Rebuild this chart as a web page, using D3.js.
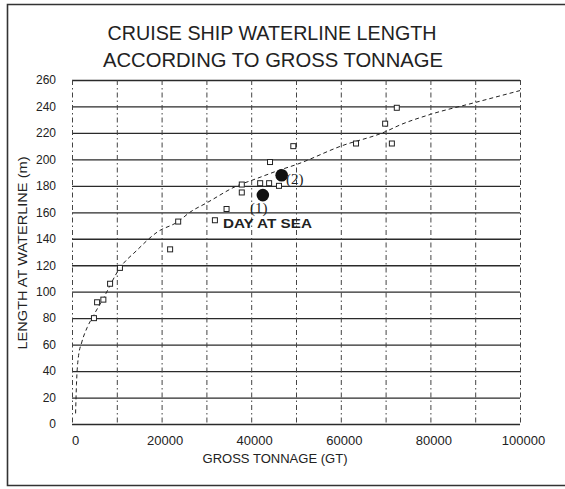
<!DOCTYPE html>
<html>
<head>
<meta charset="utf-8">
<script src="https://cdn.jsdelivr.net/npm/d3@7"></script>
<style>
  html, body { margin: 0; padding: 0; background: #fff; }
  svg { display: block; font-family: "Liberation Sans", Arial, sans-serif; }
</style>
</head>
<body>
<svg id="chart" width="565" height="489"></svg>
<script>
// ---- data ----
const titleLines = ["CRUISE SHIP WATERLINE LENGTH", "ACCORDING TO GROSS TONNAGE"];
const xTicks = [0, 20000, 40000, 60000, 80000, 100000];
const xGrid = [0, 10000, 20000, 30000, 40000, 50000, 60000, 70000, 80000, 90000, 100000];
const yTicks = [0, 20, 40, 60, 80, 100, 120, 140, 160, 180, 200, 220, 240, 260];

// ships (open squares)
const shipGT = [4900, 5600, 7000, 8500, 10700, 21900, 23700, 31900, 34500, 37900, 37900, 42000, 44000, 46200, 44200, 49400, 63400, 69900, 71400, 72500];
const shipL  = [80,   92,   94,   106,  118,   132,   153,   154,   162.5, 181,   175,   182,   182,   180,   198,   210,   212,   227,   212,   239];

// highlighted designs (filled circles)
const designGT = [42600, 46800];
const designL  = [173, 188];
const designLabels = ["(1)", "(2)"];

// trend curve points
const curveGT = [800, 1000, 1400, 2200, 3400, 4800, 7000, 10700, 14400, 19000, 23700, 26300, 30000, 37500, 40000, 46400, 50000, 60000, 70000, 73200, 80000, 90000, 100000];
const curveL  = [8,   30,   50,   62,   73,   82,   95,   118,   131,   145,   153,   160,   167,   181,   184,   192,   196,   210,   221,   226,   234,   243,   252];

const annotation = "DAY AT SEA";
const xTitle = "GROSS TONNAGE (GT)";
const yTitle = "LENGTH AT WATERLINE (m)";

// ---- drawing ----
const svg = d3.select("#chart");
const x = d3.scaleLinear().domain([0, 100000]).range([72, 520]);
const y = d3.scaleLinear().domain([0, 260]).range([424, 80]);
const ink = "#222";

// outer frame
svg.append("path")
  .attr("d", "M565,4.5 H7.5 V485.5 H565")
  .attr("fill", "none").attr("stroke", "#333").attr("stroke-width", 1.6);

// title
svg.selectAll("text.title").data(titleLines).join("text")
  .attr("class", "title")
  .attr("x", (d, i) => i === 0 ? 272 : 273)
  .attr("y", (d, i) => i === 0 ? 40 : 67)
  .attr("text-anchor", "middle")
  .attr("font-size", 20)
  .attr("fill", ink)
  .attr("textLength", (d, i) => i === 0 ? 329 : 340)
  .attr("lengthAdjust", "spacingAndGlyphs")
  .text(d => d);

// horizontal grid
const gy = svg.append("g")
  .attr("transform", "translate(72,0)")
  .call(d3.axisRight(y).tickValues(yTicks).tickSize(448).tickFormat(""));
gy.select(".domain").remove();
gy.selectAll("line").attr("stroke", "#2a2a2a").attr("stroke-width", 1.3);

// vertical grid (dashed)
const gx = svg.append("g")
  .attr("transform", "translate(0,80)")
  .call(d3.axisBottom(x).tickValues(xGrid).tickSize(344).tickFormat(""));
gx.select(".domain").remove();
gx.selectAll("line").attr("stroke", "#444").attr("stroke-width", 1)
  .attr("stroke-dasharray", "5,3,1.5,3");

// y tick labels
const ay = svg.append("g")
  .attr("transform", "translate(56,0)")
  .call(d3.axisLeft(y).tickValues(yTicks).tickSize(0).tickPadding(0).tickFormat(d3.format("d")));
ay.select(".domain").remove();
ay.selectAll("text").attr("font-size", 12).attr("fill", ink)
  .attr("font-family", "'Liberation Sans', Arial, sans-serif");

// x tick labels
const ax = svg.append("g")
  .attr("transform", "translate(3,436)")
  .call(d3.axisBottom(x).tickValues(xTicks).tickSize(0).tickPadding(0).tickFormat(d3.format("d")));
ax.select(".domain").remove();
ax.selectAll("text").attr("font-size", 13).attr("fill", ink)
  .attr("font-family", "'Liberation Sans', Arial, sans-serif");

// axis titles
svg.append("text")
  .attr("x", 275).attr("y", 463)
  .attr("text-anchor", "middle").attr("font-size", 12.5).attr("fill", ink)
  .attr("textLength", 145).attr("lengthAdjust", "spacingAndGlyphs")
  .text(xTitle);
svg.append("text")
  .attr("transform", "translate(27,253) rotate(-90)")
  .attr("text-anchor", "middle").attr("font-size", 12.5).attr("fill", ink)
  .attr("textLength", 193).attr("lengthAdjust", "spacingAndGlyphs")
  .text(yTitle);

// trend curve
const curveData = curveGT.map((g, i) => [g, curveL[i]]);
svg.append("path")
  .datum(curveData)
  .attr("fill", "none").attr("stroke", "#222").attr("stroke-width", 1)
  .attr("stroke-dasharray", "4,3")
  .attr("d", d3.line().x(d => x(d[0])).y(d => y(d[1])).curve(d3.curveMonotoneX));

// ship squares
const ships = shipGT.map((g, i) => ({ g, l: shipL[i] }));
svg.selectAll("rect.ship").data(ships).join("rect")
  .attr("class", "ship")
  .attr("x", d => x(d.g) - 2.5).attr("y", d => y(d.l) - 2.5)
  .attr("width", 5).attr("height", 5)
  .attr("fill", "#fff").attr("stroke", "#222").attr("stroke-width", 1);

// designs
const designs = designGT.map((g, i) => ({ g, l: designL[i], label: designLabels[i] }));
svg.selectAll("circle.design").data(designs).join("circle")
  .attr("class", "design")
  .attr("cx", d => x(d.g)).attr("cy", d => y(d.l)).attr("r", 6.3)
  .attr("fill", "#111");
svg.selectAll("text.dlabel").data(designs).join("text")
  .attr("class", "dlabel")
  .attr("x", (d, i) => i === 0 ? x(d.g) - 4 : x(d.g) + 13)
  .attr("y", (d, i) => i === 0 ? y(d.l) + 18 : y(d.l) + 9)
  .attr("text-anchor", "middle")
  .attr("font-family", "'Liberation Serif', 'Times New Roman', serif")
  .attr("font-size", 15).attr("fill", ink)
  .text(d => d.label);

// annotation (next to the day-at-sea ship)
svg.append("text")
  .attr("x", x(shipGT[7]) + 8).attr("y", y(shipL[7]) + 8)
  .attr("font-size", 13).attr("font-weight", "bold").attr("fill", ink)
  .attr("textLength", 89).attr("lengthAdjust", "spacingAndGlyphs")
  .text(annotation);
</script>
</body>
</html>
